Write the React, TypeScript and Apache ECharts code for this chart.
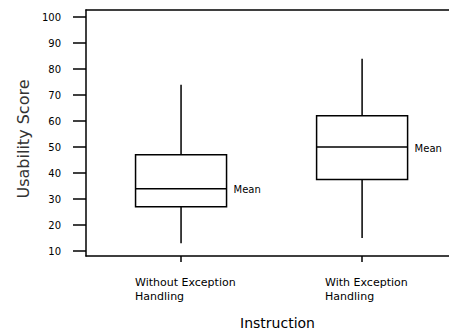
import React, { useEffect, useRef } from 'react';
import * as echarts from 'echarts';

const categories = ['Without Exception', 'With Exception'];
const categorySecondLine = ['Handling', 'Handling'];
const positions = [0, 1];
const whiskerLow = [13, 15];
const q1 = [27, 37.5];
const median = [34, 50];
const q3 = [47, 62];
const whiskerHigh = [74, 84];
const yTicks = [10, 20, 30, 40, 50, 60, 70, 80, 90, 100];
const meanLabel = 'Mean';
const xTitle = 'Instruction';
const yTitle = 'Usability Score';

const FONT = '"DejaVu Sans", "Liberation Sans", sans-serif';
const X_MIN = -0.525;
const X_MAX = 1.48;

export default function App() {
  const ref = useRef<HTMLDivElement>(null);
  useEffect(() => {
    if (!ref.current) return;
    const chart = echarts.init(ref.current, undefined, { renderer: 'svg' });
    const data = positions.map((p, i) => [p, whiskerLow[i], q1[i], median[i], q3[i], whiskerHigh[i]]);
    const hw = 45.5;
    chart.setOption({
      animation: false,
      backgroundColor: '#fff',
      grid: {
        left: 86,
        right: 0,
        top: 10,
        bottom: 77,
        show: false,
      },
      xAxis: [
        {
          type: 'value',
          min: X_MIN,
          max: X_MAX,
          name: xTitle,
          nameLocation: 'middle',
          nameGap: 60,
          nameTextStyle: { fontFamily: FONT, fontSize: 14, color: '#000', padding: [0, 0, 0, 20] },
          splitLine: { show: false },
          axisLine: { show: true, onZero: false, lineStyle: { color: '#000', width: 1.5 } },
          axisTick: { show: true, length: 6, customValues: positions, lineStyle: { color: '#000', width: 1.5 } },
          axisLabel: {
            customValues: positions,
            margin: 19,
            fontFamily: FONT,
            fontSize: 11,
            color: '#000',
            lineHeight: 14,
            align: 'center',
            padding: [0, 0, 0, 9],
            formatter: (v: number) => {
              const i = Math.round(v);
              const key = i === 0 ? 'a' : 'b';
              return `{${key}|${categories[i]}}\n{${key}|${categorySecondLine[i]}}`;
            },
            rich: {
              a: { width: 101, align: 'left', fontFamily: FONT, fontSize: 11, color: '#000', lineHeight: 14 },
              b: { width: 83, align: 'left', fontFamily: FONT, fontSize: 11, color: '#000', lineHeight: 14 },
            },
          },
        },
        {
          type: 'value',
          position: 'top',
          min: X_MIN,
          max: X_MAX,
          splitLine: { show: false },
          axisLine: { show: true, onZero: false, lineStyle: { color: '#000', width: 1.5 } },
          axisTick: { show: false },
          axisLabel: { show: false },
        },
      ],
      yAxis: {
        type: 'value',
        min: 8.1,
        max: 102.7,
        name: yTitle,
        nameLocation: 'middle',
        nameGap: 52,
        nameRotate: 90,
        nameTextStyle: { fontFamily: FONT, fontSize: 16, color: '#333', padding: [0, 12, 0, 0] },
        splitLine: { show: false },
        axisLine: { show: true, onZero: false, lineStyle: { color: '#000', width: 1.5 } },
        axisTick: { show: true, length: 13, customValues: yTicks, lineStyle: { color: '#000', width: 1.5 } },
        axisLabel: {
          customValues: yTicks,
          margin: 25,
          fontFamily: FONT,
          fontSize: 10,
          color: '#000',
        },
      },
      series: [
        {
          type: 'custom',
          xAxisIndex: 0,
          data,
          encode: { x: 0, y: [1, 2, 3, 4, 5] },
          renderItem: (params: any, api: any) => {
            const x = api.value(0);
            const pLow = api.coord([x, api.value(1)]);
            const pQ1 = api.coord([x, api.value(2)]);
            const pMed = api.coord([x, api.value(3)]);
            const pQ3 = api.coord([x, api.value(4)]);
            const pHigh = api.coord([x, api.value(5)]);
            const cx = pMed[0];
            const ls = { stroke: '#000', lineWidth: 1.5 };
            return {
              type: 'group',
              children: [
                { type: 'line', shape: { x1: cx, y1: pHigh[1], x2: cx, y2: pQ3[1] }, style: ls },
                { type: 'line', shape: { x1: cx, y1: pQ1[1], x2: cx, y2: pLow[1] }, style: ls },
                {
                  type: 'rect',
                  shape: { x: cx - hw, y: pQ3[1], width: 2 * hw, height: pQ1[1] - pQ3[1] },
                  style: { fill: '#fff', stroke: '#000', lineWidth: 1.5 },
                },
                { type: 'line', shape: { x1: cx - hw, y1: pMed[1], x2: cx + hw, y2: pMed[1] }, style: ls },
                {
                  type: 'text',
                  x: cx + hw + 7,
                  y: pMed[1] + 1,
                  style: {
                    text: meanLabel,
                    fontFamily: FONT,
                    fontSize: 10,
                    fill: '#000',
                    align: 'left',
                    verticalAlign: 'middle',
                  },
                },
              ],
            };
          },
        },
      ],
    });
    return () => chart.dispose();
  }, []);
  return <div ref={ref} style={{ position: 'absolute', left: 0, top: 0, width: 449, height: 335 }} />;
}
